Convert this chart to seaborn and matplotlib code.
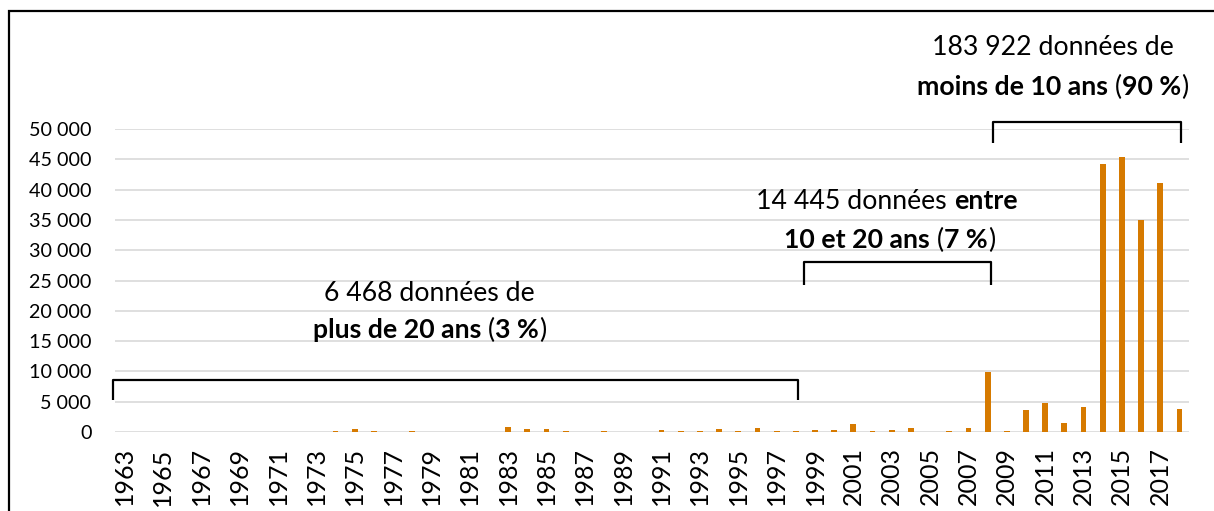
import seaborn as sns
from matplotlib import pyplot as plt
from matplotlib.offsetbox import TextArea, HPacker, AnnotationBbox
from matplotlib.ticker import FuncFormatter
import pandas as pd

# données par année de collecte
years = list(range(1963, 2019))
counts_old = {1974: 200, 1975: 450, 1976: 150, 1978: 150, 1983: 850, 1984: 450,
              1985: 500, 1986: 200, 1988: 200, 1991: 300, 1992: 220, 1993: 220,
              1994: 500, 1995: 220, 1996: 600, 1997: 220, 1998: 180}
counts_mid = {1999: 400, 2000: 350, 2001: 1400, 2002: 200, 2003: 350, 2004: 700,
              2005: 0, 2006: 150, 2007: 650, 2008: 9950}
counts_new = {2009: 150, 2010: 3650, 2011: 4850, 2012: 1550, 2013: 4100,
              2014: 44250, 2015: 45450, 2016: 34950, 2017: 41150, 2018: 3850}

all_counts = {**counts_old, **counts_mid, **counts_new}
df = pd.DataFrame({'annee': [str(y) for y in years],
                   'n': [all_counts.get(y, 0) for y in years]})

BAR = '#D67A00'
FONT = ['Lato', 'DejaVu Sans']

sns.set_theme(style='white')
plt.rcParams['font.family'] = FONT

W, H = 1214, 511
fig = plt.figure(figsize=(W / 100, H / 100), dpi=100)
ax = fig.add_axes([115 / W, 1 - 432 / H, (1189 - 115) / W, 303 / H])

sns.barplot(data=df, x='annee', y='n', color=BAR, width=0.3, saturation=1,
            errorbar=None, linewidth=0, ax=ax)

ax.set_xlim(-0.5, len(years) - 0.5)
ax.set_ylim(0, 50000)
ax.set_yticks(range(0, 50001, 5000))
ax.yaxis.set_major_formatter(FuncFormatter(lambda v, p: f'{int(v):,}'.replace(',', ' ')))
ax.set_xticks(range(0, len(years), 2))
ax.set_xticklabels([str(y) for y in years[::2]], rotation=90)
ax.tick_params(axis='x', length=0, pad=11, labelsize=18, colors='black')
ax.tick_params(axis='y', length=0, pad=17, labelsize=14.2, colors='black')
ax.set_xlabel('')
ax.set_ylabel('')
ax.yaxis.grid(True, color='#d9d9d9', lw=1.2)
ax.set_axisbelow(True)
for s in ax.spines.values():
    s.set_visible(False)


def rich_line(parts, x, y, size=19.2):
    boxes = [TextArea(t, textprops=dict(fontsize=size, family=FONT, color='black',
                                        fontweight='bold' if b else 'normal'))
             for t, b in parts]
    pack = HPacker(children=boxes, align='baseline', pad=0, sep=0)
    ab = AnnotationBbox(pack, (x, y), xycoords='data', frameon=False,
                        box_alignment=(0.5, 0.5), annotation_clip=False)
    ax.add_artist(ab)


def bracket(x0, x1, ytop, ybot):
    ax.plot([x0, x0, x1, x1], [ybot, ytop, ytop, ybot], color='black', lw=1.6,
            clip_on=False, solid_joinstyle='round', solid_capstyle='butt')


bracket(-0.6, 35.1, 8580, 5280)
bracket(35.45, 45.15, 28050, 24260)
bracket(45.3, 55.1, 51160, 47690)

rich_line([('6 468 données de', False)], 15.9, 22800)
rich_line([('plus de 20 ans', True), (' (', False), ('3 %', True), (')', False)], 15.9, 16830)
rich_line([('14 445 données ', False), ('entre', True)], 39.75, 38000)
rich_line([('10 et 20 ans', True), (' (', False), ('7 %', True), (')', False)], 39.9, 31680)
rich_line([('183 922 données de', False)], 48.4, 63500)
rich_line([('moins de 10 ans', True), (' (', False), ('90 %', True), (')', False)], 48.4, 56930)

# cadre du graphique (bords gauche et haut visibles)
fig.add_artist(plt.Rectangle((8.5 / W, -0.5), 2, 1.5 - 10.5 / H, transform=fig.transFigure,
                             fill=False, lw=1.6, edgecolor='black'))

fig.savefig('out.png', dpi=100)
